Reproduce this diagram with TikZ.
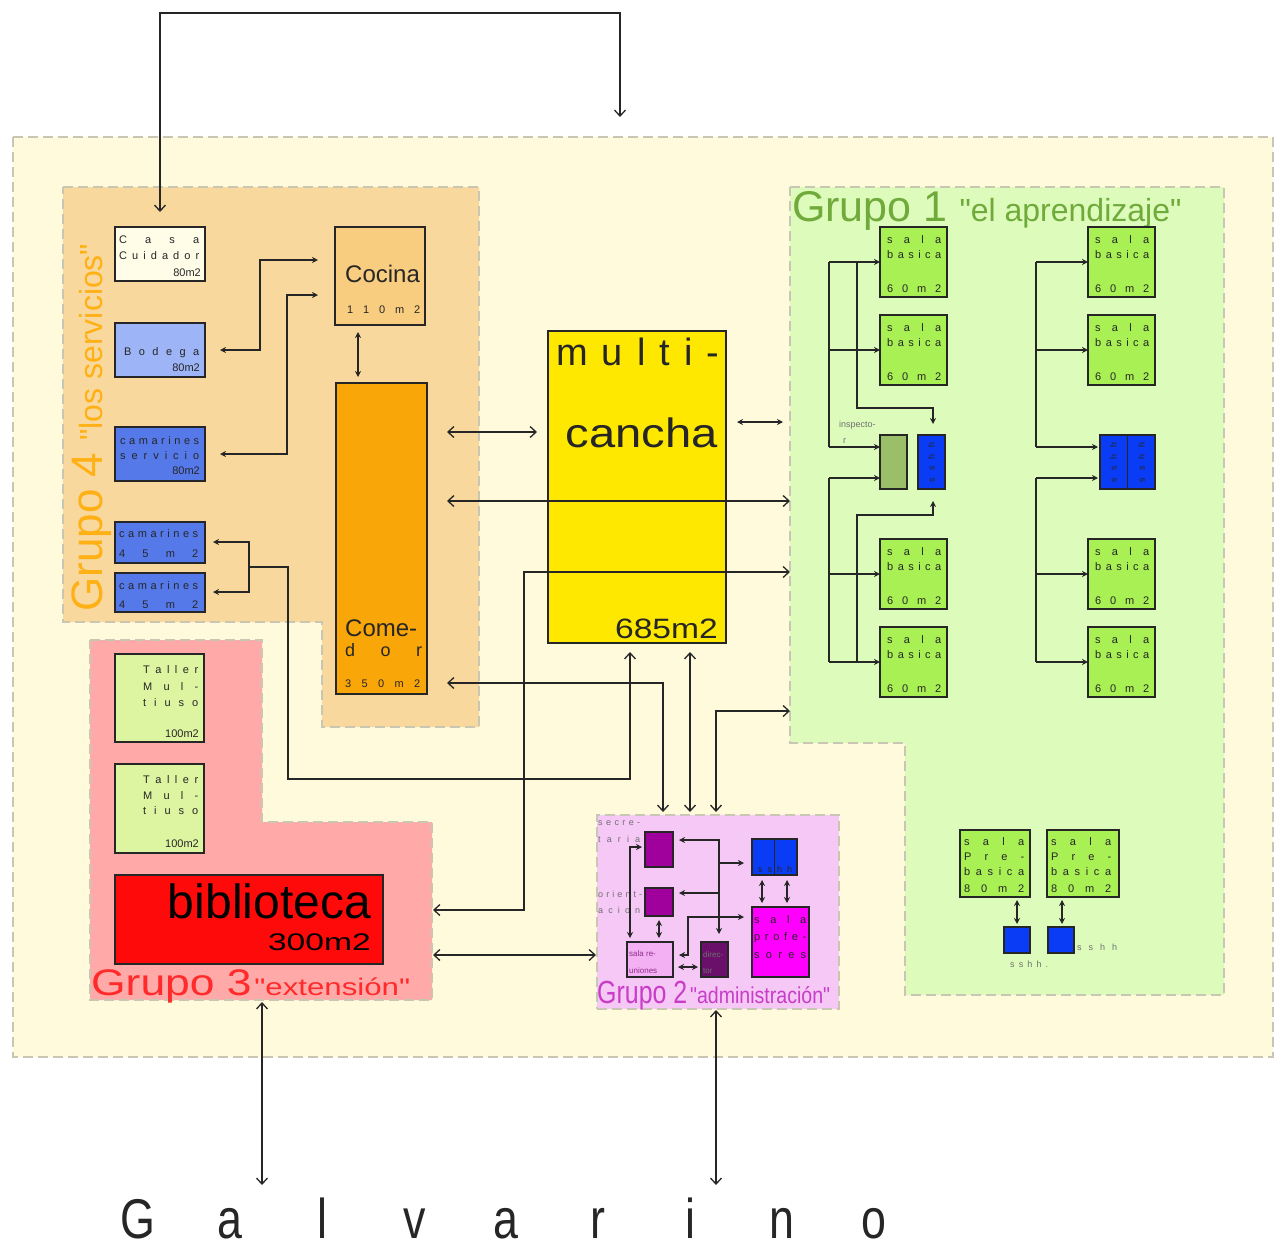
\documentclass[tikz,border=0pt]{standalone}
\usepackage{fontspec}
\setmainfont{Liberation Sans}[Ligatures=TeXOff]
\usetikzlibrary{arrows.meta}
\definecolor{cream}{HTML}{FFFADB}
\definecolor{dashc}{HTML}{C9C7B3}
\definecolor{gfour}{HTML}{F8D89C}
\definecolor{gthree}{HTML}{FFA9A9}
\definecolor{gone}{HTML}{DDFCBB}
\definecolor{gtwo}{HTML}{F5C8F5}
\definecolor{casac}{HTML}{FFFDE8}
\definecolor{bodc}{HTML}{9DB4F7}
\definecolor{camc}{HTML}{5679EA}
\definecolor{cocc}{HTML}{F9CD80}
\definecolor{comc}{HTML}{F9A608}
\definecolor{mulc}{HTML}{FFE800}
\definecolor{talc}{HTML}{DDF5A0}
\definecolor{bibc}{HTML}{FF0A0A}
\definecolor{salc}{HTML}{A8F054}
\definecolor{insc}{HTML}{9BBF68}
\definecolor{blc}{HTML}{0A3CF5}
\definecolor{secc}{HTML}{A0009C}
\definecolor{reuc}{HTML}{F3B0F3}
\definecolor{dirc}{HTML}{6A106A}
\definecolor{proc}{HTML}{FF00FF}
\definecolor{lfour}{HTML}{FFB015}
\definecolor{lone}{HTML}{6FAA3A}
\definecolor{lthree}{HTML}{FF2A2A}
\definecolor{ltwo}{HTML}{C83CC8}
\definecolor{ink}{HTML}{262626}
\definecolor{gtxt}{HTML}{707070}
\makeatletter
\def\spr@end{\spr@end}
\def\spr@loop#1{\ifx#1\spr@end\else\hfil#1\expandafter\spr@loop\fi}
\def\spr@first#1{#1\spr@loop}
\newcommand\spread[2]{\makebox[#1][s]{\spr@first#2\spr@end}}
\makeatother
\newcommand\mkroom[6]{\node[room, fill=#6, minimum width=#4pt, minimum height=#5pt] (#1) at (#2,#3) {};}
\newcommand\sala[3]{\mkroom{#1}{#2}{#3}{67}{70}{salc}
  \node[t, anchor=base west] (#1-a) at ([xshift=7pt,yshift=-16pt]#1.north west) {\spread{54pt}{sala}};
  \node[t, anchor=base west] (#1-b) at ([xshift=7pt,yshift=-31pt]#1.north west) {\spread{54pt}{basica}};
  \node[t, anchor=base west] (#1-c) at ([xshift=7pt,yshift=-65pt]#1.north west) {\spread{54pt}{60m2}};}
\newcommand\prebas[4]{\mkroom{#1}{#2}{#3}{#4}{67}{salc}
  \node[t, anchor=base west] (#1-a) at ([xshift=4pt,yshift=-15pt]#1.north west) {\spread{60pt}{sala}};
  \node[t, anchor=base west] (#1-b) at ([xshift=4pt,yshift=-30pt]#1.north west) {\spread{60pt}{Pre-}};
  \node[t, anchor=base west] (#1-c) at ([xshift=4pt,yshift=-45pt]#1.north west) {\spread{60pt}{basica}};
  \node[t, anchor=base west] (#1-d) at ([xshift=4pt,yshift=-62pt]#1.north west) {\spread{60pt}{80m2}};}
\begin{document}
\begin{tikzpicture}[x=1pt,y=-1pt,
  region/.style={draw=dashc, line width=1.5pt, dash pattern=on 10pt off 5pt},
  room/.style={draw=ink, line width=1.5pt, anchor=north west, inner sep=0pt, outer sep=0pt},
  ln/.style={draw=ink, line width=1.3pt},
  conn/.style={ln, {Straight Barb[length=6pt,width=11pt]}-{Straight Barb[length=6pt,width=11pt]}},
  cto/.style={ln, -{Straight Barb[length=6pt,width=11pt]}},
  sconn/.style={ln, {Stealth[length=6pt,width=6pt]}-{Stealth[length=6pt,width=6pt]}},
  sto/.style={ln, -{Stealth[length=6pt,width=6pt]}},
  t/.style={inner sep=0pt, font=\fontsize{11}{12}\selectfont, text=ink},
  st/.style={inner sep=0pt, font=\fontsize{9}{10}\selectfont, text=gtxt}]
\useasboundingbox (0,0) rectangle (1274,1248);
\fill[white] (0,0) rectangle (1274,1248);
% regions
\path[region, fill=cream] (13,137) rectangle (1273,1057);
\path[region, fill=gfour] (63,187) -- (479,187) -- (479,727) -- (322,727) -- (322,622) -- (63,622) -- cycle;
\path[region, fill=gthree] (90,640) -- (262,640) -- (262,822) -- (432,822) -- (432,1000) -- (90,1000) -- cycle;
\path[region, fill=gone] (790,187) -- (1224,187) -- (1224,995) -- (905,995) -- (905,743) -- (790,743) -- cycle;
\node[region, fill=gtwo, anchor=north west, inner sep=0pt, minimum width=242pt, minimum height=194pt] (g2) at (596,814) {};
% group labels
\node[inner sep=0pt, anchor=base west, rotate=90, text=lfour] (g4lbl) at (102,612) {\fontsize{44}{44}\selectfont Grupo 4 \fontsize{32}{32}\selectfont "los servicios"};
\node[inner sep=0pt, anchor=base west, text=lone] (g1lbl) at (792,221) {\fontsize{43}{43}\selectfont Grupo 1 \fontsize{32}{32}\selectfont "el aprendizaje"};
\node[inner sep=0pt, anchor=base west, text=lthree] (g3lbl) at (91,995) {\scalebox{1.2}[1]{\fontsize{37}{37}\selectfont Grupo 3} \scalebox{1.3}[1]{\fontsize{24}{24}\selectfont "extensión"}};
\node[inner sep=0pt, anchor=base west, text=ltwo] (g2lbl) at (597,1003) {\scalebox{0.78}[1]{\fontsize{32}{32}\selectfont Grupo 2} \scalebox{0.85}[1]{\fontsize{23}{23}\selectfont "administración"}};
% group 4 rooms
\mkroom{casa}{115}{227}{90}{54}{casac}
\node[t, anchor=base west] (casa-a) at (119,243) {\spread{80pt}{Casa}};
\node[t, anchor=base west] (casa-b) at (119,259) {\spread{80pt}{Cuidador}};
\node[t, anchor=base east] (casa-c) at (201,276) {80m2};
\mkroom{bodega}{115}{323}{90}{54}{bodc}
\node[t, anchor=base west] (bod-a) at (124,355) {\spread{75pt}{Bodega}};
\node[t, anchor=base east] (bod-b) at (200,371) {80m2};
\mkroom{camserv}{115}{427}{90}{54}{camc}
\node[t, anchor=base west] (cs-a) at (120,444) {\spread{79pt}{camarines}};
\node[t, anchor=base west] (cs-b) at (120,459) {\spread{79pt}{servicio}};
\node[t, anchor=base east] (cs-c) at (200,474) {80m2};
\mkroom{camA}{115}{522}{90}{41}{camc}
\node[t, anchor=base west] (ca-a) at (119,537) {\spread{79pt}{camarines}};
\node[t, anchor=base west] (ca-b) at (119,557) {\spread{79pt}{45m2}};
\mkroom{camB}{115}{573}{90}{39}{camc}
\node[t, anchor=base west] (cb-a) at (119,589) {\spread{79pt}{camarines}};
\node[t, anchor=base west] (cb-b) at (119,608) {\spread{79pt}{45m2}};
\mkroom{cocina}{335}{227}{90}{98}{cocc}
\node[t, anchor=base west, font=\fontsize{24}{24}\selectfont] (coc-a) at (345,282) {Cocina};
\node[t, anchor=base west] (coc-b) at (347,313) {\spread{73pt}{110m2}};
\mkroom{comedor}{336}{383}{91}{311}{comc}
\node[t, anchor=base west, font=\fontsize{24}{24}\selectfont] (com-a) at (345,636) {Come-};
\node[t, anchor=base west, font=\fontsize{18}{18}\selectfont] (com-b) at (345,656) {\spread{77pt}{dor}};
\node[t, anchor=base west] (com-c) at (345,687) {\spread{75pt}{350m2}};
% multicancha
\mkroom{multi}{548}{331}{178}{312}{mulc}
\node[t, anchor=base west, font=\fontsize{38}{38}\selectfont] (mul-a) at (556,365) {\spread{163pt}{multi-}};
\node[t, anchor=base east, font=\fontsize{41}{41}\selectfont] (mul-b) at (718,447) {\scalebox{1.15}[1]{cancha}};
\node[t, anchor=base east, font=\fontsize{28}{28}\selectfont] (mul-c) at (718,638) {\scalebox{1.2}[1]{685m2}};
% group 3 rooms
\mkroom{tallerA}{115}{654}{89}{88}{talc}
\node[t, anchor=base west] (ta-a) at (143,673) {\spread{55pt}{Taller}};
\node[t, anchor=base west] (ta-b) at (143,690) {\spread{55pt}{Mul-}};
\node[t, anchor=base west] (ta-c) at (143,706) {\spread{55pt}{tiuso}};
\node[t, anchor=base east] (ta-d) at (199,737) {100m2};
\mkroom{tallerB}{115}{764}{89}{89}{talc}
\node[t, anchor=base west] (tb-a) at (143,783) {\spread{55pt}{Taller}};
\node[t, anchor=base west] (tb-b) at (143,799) {\spread{55pt}{Mul-}};
\node[t, anchor=base west] (tb-c) at (143,814) {\spread{55pt}{tiuso}};
\node[t, anchor=base east] (tb-d) at (199,847) {100m2};
\mkroom{biblio}{115}{875}{268}{89}{bibc}
\node[t, anchor=base east, font=\fontsize{48}{48}\selectfont, text=black] (bib-a) at (371,918) {biblioteca};
\node[t, anchor=base east, font=\fontsize{24}{24}\selectfont, text=black] (bib-b) at (371,950) {\scalebox{1.4}[1]{300m2}};
% group 1 rooms
\sala{sA}{880}{227}
\sala{sB}{880}{315}
\sala{sC}{880}{539}
\sala{sD}{880}{627}
\sala{sE}{1088}{227}
\sala{sF}{1088}{315}
\sala{sG}{1088}{539}
\sala{sH}{1088}{627}
\mkroom{insp}{880}{435}{27}{54}{insc}
\node[st, anchor=base west] (insp-a) at (839,427) {inspecto-};
\node[st, anchor=base west] (insp-b) at (843,443) {r};
\mkroom{shA}{918}{435}{27}{54}{blc}
\node[t, rotate=90, font=\fontsize{9}{9}\selectfont] (shA-t) at (shA.center) {\spread{40pt}{sshh}};
\mkroom{shB}{1100}{435}{55}{54}{blc}
\draw[ln, line width=1.5pt] (shB.north) -- (shB.south);
\node[t, rotate=90, font=\fontsize{9}{9}\selectfont] (shB-t1) at ([xshift=-14pt]shB.center) {\spread{40pt}{sshh}};
\node[t, rotate=90, font=\fontsize{9}{9}\selectfont] (shB-t2) at ([xshift=14pt]shB.center) {\spread{40pt}{sshh}};
\prebas{pbA}{960}{830}{70}
\prebas{pbB}{1047}{830}{72}
\mkroom{ssA}{1004}{927}{26}{26}{blc}
\mkroom{ssB}{1048}{927}{26}{26}{blc}
\node[st, anchor=base west] (ssA-t) at (1010,967) {\spread{38pt}{sshh.}};
\node[st, anchor=base west] (ssB-t) at (1077,950) {\spread{40pt}{sshh}};
% group 2 rooms
\mkroom{secr}{645}{832}{28}{35}{secc}
\mkroom{orie}{645}{888}{28}{28}{secc}
\mkroom{reun}{627}{942}{46}{35}{reuc}
\mkroom{dire}{701}{942}{27}{35}{dirc}
\mkroom{shC}{752}{839}{45}{36}{blc}
\draw[ln, line width=1.5pt] (shC.north) -- (shC.south);
\mkroom{prof}{752}{907}{57}{70}{proc}
\node[st, anchor=base west] (secr-a) at (598,825) {\spread{42pt}{secre-}};
\node[st, anchor=base west] (secr-b) at (598,842) {\spread{42pt}{taria}};
\node[st, anchor=base west] (orie-a) at (598,897) {\spread{44pt}{orient-}};
\node[st, anchor=base west] (orie-b) at (598,913) {\spread{42pt}{acion}};
\node[st, anchor=base west, font=\fontsize{8}{8}\selectfont, text=secc!60!gtxt] (reun-a) at (629,956) {sala re-};
\node[st, anchor=base west, font=\fontsize{8}{8}\selectfont, text=secc!60!gtxt] (reun-b) at (629,973) {uniones};
\node[st, anchor=base west, font=\fontsize{8}{8}\selectfont] (dire-a) at (703,957) {direc-};
\node[st, anchor=base west, font=\fontsize{8}{8}\selectfont] (dire-b) at (703,973) {tor};
\node[t, anchor=base west, font=\fontsize{9}{9}\selectfont] (shC-t) at (758,872) {\spread{34pt}{sshh}};
\node[t, anchor=base west] (prof-a) at (754,923) {\spread{52pt}{sala}};
\node[t, anchor=base west] (prof-b) at (754,940) {\spread{52pt}{profe-}};
\node[t, anchor=base west] (prof-c) at (754,958) {\spread{52pt}{sores}};
% street
\node[inner sep=0pt, anchor=base west, text=ink, font=\fontsize{56}{56}\selectfont] (galv) at (92,1238) {\makebox[92pt]{\scalebox{0.8}[1]{G}}\makebox[92pt]{\scalebox{0.8}[1]{a}}\makebox[92pt]{\scalebox{0.8}[1]{l}}\makebox[92pt]{\scalebox{0.8}[1]{v}}\makebox[92pt]{\scalebox{0.8}[1]{a}}\makebox[92pt]{\scalebox{0.8}[1]{r}}\makebox[92pt]{\scalebox{0.8}[1]{i}}\makebox[92pt]{\scalebox{0.8}[1]{n}}\makebox[92pt]{\scalebox{0.8}[1]{o}}};
% ---------------- connectors ----------------
\coordinate (topL) at (160,13);
\coordinate (topR) at (620,13);
\coordinate (entry) at (620,117);
\draw[conn, shorten <=15pt] (casa.north) -- (topL) -- (topR) -- (entry);
\coordinate (bodE) at (220,350); \coordinate (bodK1) at (260,350); \coordinate (bodK2) at (260,260); \coordinate (cocW1) at (318,260);
\draw[sconn] (bodE) -- (bodK1) -- (bodK2) -- (cocW1);
\coordinate (csE) at (220,454); \coordinate (csK1) at (287,454); \coordinate (csK2) at (287,295); \coordinate (cocW2) at (318,295);
\draw[sconn] (csE) -- (csK1) -- (csK2) -- (cocW2);
\coordinate (cocS) at (358,332); \coordinate (comN) at (358,377);
\draw[sconn] (cocS) -- (comN);
\coordinate (c1E) at (213,542); \coordinate (c2E) at (213,592); \coordinate (cK1) at (249,542); \coordinate (cK2) at (249,592);
\coordinate (cJ) at (249,567); \coordinate (cK3) at (288,567); \coordinate (cK4) at (288,779); \coordinate (cK5) at (630,779); \coordinate (mulS1) at (630,652);
\draw[sconn] (c1E) -- (cK1) -- (cK2) -- (c2E);
\draw[cto] (cJ) -- (cK3) -- (cK4) -- (cK5) -- (mulS1);
\coordinate (comE1) at (447,432); \coordinate (mulW) at (537,432);
\draw[conn] (comE1) -- (mulW);
\coordinate (comE2) at (447,501); \coordinate (g1W1) at (790,501);
\draw[conn] (comE2) -- (g1W1);
\coordinate (bibE) at (433,910); \coordinate (bK1) at (524,910); \coordinate (bK2) at (524,572); \coordinate (g1W2) at (790,572);
\draw[conn] (bibE) -- (bK1) -- (bK2) -- (g1W2);
\coordinate (mulE) at (737,422); \coordinate (g1W0) at (783,422);
\draw[sconn] (mulE) -- (g1W0);
\coordinate (comE3) at (447,683); \coordinate (dK1) at (663,683); \coordinate (g2N1) at (663,812);
\draw[conn] (comE3) -- (dK1) -- (g2N1);
\coordinate (mulS2) at (690,652); \coordinate (g2N2) at (690,812);
\draw[conn] (mulS2) -- (g2N2);
\coordinate (g2N3) at (716,812); \coordinate (eK1) at (716,711); \coordinate (g1W3) at (790,711);
\draw[conn] (g2N3) -- (eK1) -- (g1W3);
\coordinate (g3E) at (433,955); \coordinate (g2W) at (596,955);
\draw[conn] (g3E) -- (g2W);
\coordinate (g3S) at (262,1002); \coordinate (st1) at (262,1185);
\draw[conn] (g3S) -- (st1);
\coordinate (g2S) at (716,1010); \coordinate (st2) at (716,1185);
\draw[conn] (g2S) -- (st2);
% group 1 internal
\draw[ln] (829,262) -- (829,447);
\draw[sto] (829,262) -- (sA.west);
\draw[sto] (829,350) -- (sB.west);
\draw[sto] (829,447) -- (insp.west |- 0,447);
\draw[sto] (857,262) -- (857,408) -- (933,408) -- (933,424);
\draw[ln] (829,478) -- (829,662);
\draw[sto] (829,478) -- (880,478);
\draw[sto] (829,574) -- (sC.west);
\draw[sto] (829,662) -- (sD.west);
\draw[sto] (857,662) -- (857,515) -- (933,515) -- (933,501);
\draw[ln] (1036,262) -- (1036,447);
\draw[sto] (1036,262) -- (sE.west);
\draw[sto] (1036,350) -- (sF.west);
\draw[sto] (1036,447) -- (1098,447);
\draw[ln] (1036,478) -- (1036,662);
\draw[sto] (1036,478) -- (1098,478);
\draw[sto] (1036,574) -- (sG.west);
\draw[sto] (1036,662) -- (sH.west);
\draw[sconn] (1017,900) -- (1017,924);
\draw[sconn] (1062,900) -- (1062,924);
% group 2 internal
\draw[sconn] (679,840) -| (719,934);
\draw[sto] (719,863) -- (744,863);
\draw[sto] (719,893) -- (679,893);
\draw[sconn] (679,955) -| (688,917) -- (744,917);
\draw[sconn] (678,967) -- (698,967);
\draw[sconn] (659,920) -- (659,938);
\draw[sconn] (642,847) -| (630,938);
\draw[sconn] (762,880) -- (762,903);
\draw[sconn] (787,880) -- (787,903);
\end{tikzpicture}
\end{document}
